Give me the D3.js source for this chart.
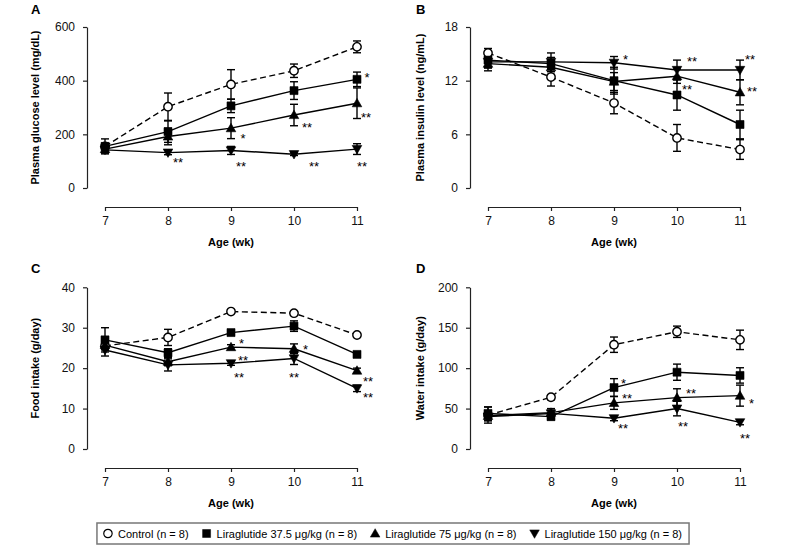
<!DOCTYPE html>
<html><head><meta charset="utf-8">
<script src="https://cdn.jsdelivr.net/npm/d3@7"></script>
<style>
body{margin:0;background:#fff;}
svg{display:block;font-family:"Liberation Sans",Arial,sans-serif;}
</style></head>
<body><svg id="chart" width="786" height="547"></svg>
<script>
// ---------- data ----------
const weeks = [7, 8, 9, 10, 11];
const seriesNames = ["Control (n = 8)", "Liraglutide 37.5 \u03bcg/kg (n = 8)", "Liraglutide 75 \u03bcg/kg (n = 8)", "Liraglutide 150 \u03bcg/kg (n = 8)"];

// A: plasma glucose (mg/dL)
const glucoseControl = [155, 303, 386, 437, 526];
const glucoseControlErr = [12, 51, 55, 25, 22];
const glucose375 = [155, 210, 306, 363, 405];
const glucose375Err = [28, 40, 25, 33, 27];
const glucose75 = [145, 192, 223, 272, 316];
const glucose75Err = [15, 31, 39, 40, 57];
const glucose150 = [142, 132, 140, 126, 145];
const glucose150Err = [10, 8, 15, 5, 20];
const glucoseSig = [["", "", "", "", ""], ["", "", "", "", "*"], ["", "", "*", "**", "**"], ["", "**", "**", "**", "**"]];

// B: plasma insulin (ng/mL)
const insulinControl = [15.1, 12.4, 9.5, 5.6, 4.3];
const insulinControlErr = [0.5, 1.0, 1.2, 1.5, 1.1];
const insulin375 = [14.3, 13.9, 12.0, 10.4, 7.1];
const insulin375Err = [0.8, 1.2, 1.5, 1.7, 1.6];
const insulin75 = [13.9, 13.5, 11.9, 12.5, 10.7];
const insulin75Err = [0.8, 0.5, 1.0, 0.8, 1.4];
const insulin150 = [14.1, 14.1, 14.0, 13.2, 13.2];
const insulin150Err = [0.7, 0.5, 0.7, 1.1, 1.1];
const insulinSig = [["", "", "", "", ""], ["", "", "", "**", ""], ["", "", "", "", "**"], ["", "", "*", "**", "**"]];

// C: food intake (g/day)
const foodControl = [25.5, 27.6, 34.0, 33.6, 28.2];
const foodControlErr = [1.0, 2.0, 0.4, 0.4, 0.5];
const food375 = [27.0, 23.8, 28.8, 30.4, 23.4];
const food375Err = [3.0, 1.0, 0.6, 1.3, 0.6];
const food75 = [25.7, 21.6, 25.2, 24.8, 19.4];
const food75Err = [1.0, 1.0, 0.6, 1.2, 0.6];
const food150 = [24.5, 20.8, 21.2, 22.4, 15.0];
const food150Err = [1.5, 1.5, 0.5, 1.5, 0.8];
const foodSig = [["", "", "", "", ""], ["", "", "*", "", ""], ["", "", "**", "*", "**"], ["", "", "**", "**", "**"]];

// D: water intake (g/day)
const waterControl = [42, 64, 129, 145, 135];
const waterControlErr = [10, 3, 9.5, 7, 12];
const water375 = [44, 40, 76, 95, 91];
const water375Err = [8, 4, 11, 10, 9.5];
const water75 = [41, 45, 57, 63.5, 66];
const water75Err = [6, 5, 8, 11, 13];
const water150 = [40, 44, 38, 50, 33];
const water150Err = [5, 4, 3, 9, 3];
const waterSig = [["", "", "", "", ""], ["", "", "*", "", ""], ["", "", "**", "**", "*"], ["", "", "**", "**", "**"]];

const yTicksA = [0, 200, 400, 600];
const yTicksB = [0, 6, 12, 18];
const yTicksC = [0, 10, 20, 30, 40];
const yTicksD = [0, 50, 100, 150, 200];

// ---------- layout / style (not data) ----------
// annotation offsets [dx, dyCenter] keyed by "series-weekIndex"
const sigOffsets = {
  A: {"1-4": [7.5, -4.5], "2-2": [9.5, 7], "2-3": [8, 9], "2-4": [4, 11], "3-1": [5, 7], "3-2": [5, 13], "3-3": [15, 9], "3-4": [0, 14]},
  B: {"3-2": [9, -6], "3-3": [10, -11], "3-4": [5, -13], "1-3": [5, -8], "2-4": [7, -4]},
  C: {"1-2": [8, 8], "2-2": [7, 10], "2-3": [9, -2], "2-4": [6, 8], "3-2": [3, 11], "3-3": [-5, 16], "3-4": [6, 6]},
  D: {"1-2": [7, -7], "2-2": [8, -7], "2-3": [9, -7], "2-4": [9, 5], "3-2": [4, 7], "3-3": [1, 15], "3-4": [0, 13]}
};

const panels = [
  {id: "A", ylabel: "Plasma glucose level (mg/dL)", ticks: yTicksA, series: [glucoseControl, glucose375, glucose75, glucose150], errs: [glucoseControlErr, glucose375Err, glucose75Err, glucose150Err], sig: glucoseSig, ax: 87, x0: 105, x1: 357, yTop: 27, yBot: 188, xAxisY: 207, letterX: 31, letterY: 14, labelX: 39},
  {id: "B", ylabel: "Plasma insulin level (ng/mL)", ticks: yTicksB, series: [insulinControl, insulin375, insulin75, insulin150], errs: [insulinControlErr, insulin375Err, insulin75Err, insulin150Err], sig: insulinSig, ax: 470, x0: 488, x1: 740, yTop: 27, yBot: 188, xAxisY: 207, letterX: 416, letterY: 14, labelX: 424},
  {id: "C", ylabel: "Food intake (g/day)", ticks: yTicksC, series: [foodControl, food375, food75, food150], errs: [foodControlErr, food375Err, food75Err, food150Err], sig: foodSig, ax: 87, x0: 105, x1: 357, yTop: 287.3, yBot: 449, xAxisY: 468, letterX: 31, letterY: 273, labelX: 39},
  {id: "D", ylabel: "Water intake (g/day)", ticks: yTicksD, series: [waterControl, water375, water75, water150], errs: [waterControlErr, water375Err, water75Err, water150Err], sig: waterSig, ax: 470, x0: 488, x1: 740, yTop: 287.3, yBot: 449, xAxisY: 468, letterX: 416, letterY: 273, labelX: 424}
];

const svg = d3.select("#chart");
const SW = 1.4;

function markerPath(type) {
  if (type === 0) return d3.symbol().type(d3.symbolCircle).size(Math.PI * 4.2 * 4.2)();
  if (type === 1) return "M-4,-4H4V4H-4Z";
  if (type === 2) return "M0,-4.8L4.8,3.6L-4.8,3.6Z";
  return "M0,4.8L4.8,-3.6L-4.8,-3.6Z";
}

panels.forEach(p => {
  const g = svg.append("g");
  const x = d3.scaleLinear().domain([7, 11]).range([p.x0, p.x1]);
  const y = d3.scaleLinear().domain([0, p.ticks[p.ticks.length - 1]]).range([p.yBot, p.yTop]);

  // axes
  const ya = g.append("g").attr("transform", `translate(${p.ax},0)`)
    .call(d3.axisLeft(y).tickValues(p.ticks).tickSize(4).tickPadding(8).tickSizeOuter(0));
  const xa = g.append("g").attr("transform", `translate(0,${p.xAxisY})`)
    .call(d3.axisBottom(x).tickValues(weeks).tickFormat(d3.format("d")).tickSize(4).tickPadding(5).tickSizeOuter(0));
  [ya, xa].forEach(a => {
    a.selectAll("path").attr("stroke", "#222").attr("stroke-width", 1.2);
    a.selectAll("line").attr("stroke", "#222").attr("stroke-width", 1.2);
    a.selectAll("text").attr("font-size", 12).attr("fill", "#111").attr("font-family", "Liberation Sans, Arial, sans-serif");
  });

  // labels
  g.append("text").attr("x", p.letterX).attr("y", p.letterY).attr("font-size", 13).attr("font-weight", "bold").text(p.id);
  g.append("text").attr("transform", `translate(${p.labelX},${(p.yTop + p.yBot) / 2}) rotate(-90)`)
    .attr("text-anchor", "middle").attr("font-size", 11).attr("font-weight", "bold").text(p.ylabel);
  g.append("text").attr("x", (p.x0 + p.x1) / 2).attr("y", p.xAxisY + 39).attr("text-anchor", "middle")
    .attr("font-size", 11).attr("font-weight", "bold").text("Age (wk)");

  // lines + error bars
  p.series.forEach((vals, si) => {
    const pts = weeks.map((w, i) => [w, vals[i], p.errs[si][i]]);
    g.append("path").datum(pts)
      .attr("d", d3.line().x(d => x(d[0])).y(d => y(d[1])))
      .attr("fill", "none").attr("stroke", "#000").attr("stroke-width", SW)
      .attr("stroke-dasharray", si === 0 ? "6,3.5" : null);
    const eb = g.append("g").attr("stroke", "#000").attr("stroke-width", SW);
    pts.forEach(d => {
      const cx = x(d[0]), t = y(d[1] + d[2]), b = y(d[1] - d[2]);
      eb.append("line").attr("x1", cx).attr("x2", cx).attr("y1", t).attr("y2", b);
      eb.append("line").attr("x1", cx - 4).attr("x2", cx + 4).attr("y1", t).attr("y2", t);
      eb.append("line").attr("x1", cx - 4).attr("x2", cx + 4).attr("y1", b).attr("y2", b);
    });
  });
  // markers
  p.series.forEach((vals, si) => {
    g.append("g").selectAll("path").data(weeks.map((w, i) => [w, vals[i]])).join("path")
      .attr("transform", d => `translate(${x(d[0])},${y(d[1])})`)
      .attr("d", markerPath(si))
      .attr("fill", si === 0 ? "#fff" : "#000").attr("stroke", "#000").attr("stroke-width", si === 0 ? 1.4 : 0.6);
  });
  // significance
  p.sig.forEach((arr, si) => {
    arr.forEach((s, i) => {
      if (!s) return;
      const off = sigOffsets[p.id][si + "-" + i] || [6, 0];
      g.append("text").attr("x", x(weeks[i]) + off[0]).attr("y", y(p.series[si][i]) + off[1] + 7.5)
        .attr("font-size", 13).text(s);
    });
  });
});

// legend
const lg = svg.append("g");
const box = lg.append("rect").attr("y", 523).attr("height", 21).attr("fill", "#fff").attr("stroke", "#777").attr("stroke-width", 1.5);
let cur = 0;
const items = [];
seriesNames.forEach((name, si) => {
  const it = lg.append("g");
  it.append("path").attr("transform", `translate(4,0)`).attr("d", markerPath(si))
    .attr("fill", si === 0 ? "#fff" : "#000").attr("stroke", "#000").attr("stroke-width", si === 0 ? 1.2 : 0.5);
  const t = it.append("text").attr("x", 14).attr("y", 4).attr("font-size", 11).text(name);
  const w = 14 + t.node().getComputedTextLength();
  items.push([it, cur]);
  cur += w + 14;
});
const total = cur - 14;
const left = 393 - total / 2;
items.forEach(([it, off]) => it.attr("transform", `translate(${left + off},${533.5})`));
box.attr("x", left - 7).attr("width", total + 14);
</script></body></html>
